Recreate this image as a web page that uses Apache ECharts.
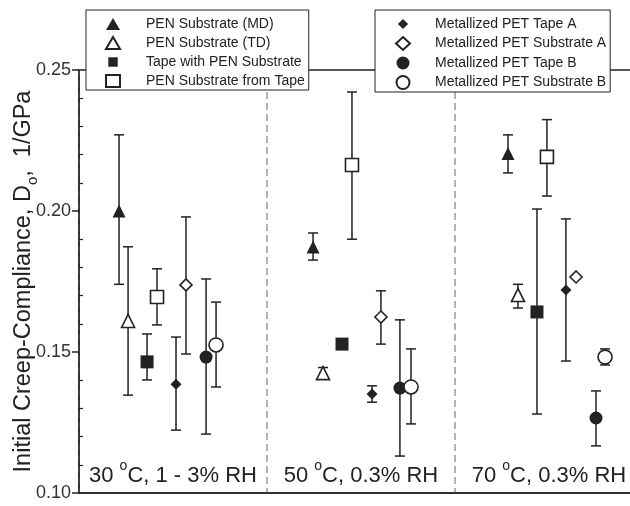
<!DOCTYPE html>
<html>
<head>
<meta charset="utf-8">
<script src="https://cdn.jsdelivr.net/npm/echarts@6/dist/echarts.min.js"></script>
<style>
  html, body { margin: 0; padding: 0; background: #fff; }
  #chart { width: 630px; height: 506px; }
</style>
</head>
<body>
<div id="chart"></div>
<script>
// test conditions (one group per condition)
var conditions = ['30|C, 1 - 3% RH', '50|C, 0.3% RH', '70|C, 0.3% RH'];

var seriesNames = [
  'PEN Substrate (MD)', 'PEN Substrate (TD)', 'Tape with PEN Substrate', 'PEN Substrate from Tape',
  'Metallized PET Tape A', 'Metallized PET Substrate A', 'Metallized PET Tape B', 'Metallized PET Substrate B'
];

// x position of each sample inside the 3 groups (group i spans i..i+1)
var xPos = [
  [0.213, 1.245, 2.282],
  [0.261, 1.298, 2.335],
  [0.362, 1.399, 2.436],
  [0.415, 1.452, 2.489],
  [0.516, 1.559, 2.590],
  [0.569, 1.606, 2.644],
  [0.676, 1.707, 2.750],
  [0.729, 1.766, 2.798]
];

// initial creep-compliance, 1/GPa
var dVals = [
  [0.200, 0.1872, 0.2204],
  [0.161, 0.1425, 0.1702],
  [0.1465, 0.1528, 0.1642],
  [0.1695, 0.2163, 0.2192],
  [0.1386, 0.1351, 0.1720],
  [0.1738, 0.1624, 0.1766],
  [0.1482, 0.1372, 0.1266],
  [0.1525, 0.1376, 0.1482]
];
var errLow = [
  [0.174, 0.1826, 0.2135],
  [0.1347, 0.1415, 0.1656],
  [0.1401, null, 0.128],
  [0.1596, 0.190, 0.2053],
  [0.1223, 0.1322, 0.1468],
  [0.1493, 0.1528, null],
  [0.1209, 0.1131, 0.1167],
  [0.1376, 0.1245, 0.1454]
];
var errHigh = [
  [0.227, 0.1922, 0.2270],
  [0.1873, 0.1445, 0.1740],
  [0.1564, null, 0.2007],
  [0.1795, 0.2422, 0.2324],
  [0.1553, 0.1380, 0.1972],
  [0.1979, 0.1717, null],
  [0.1759, 0.1614, 0.1362],
  [0.1677, 0.1511, 0.1511]
];

var yTicks = [0.10, 0.15, 0.20, 0.25];

var ink = '#222';
var symbols = ['triangle', 'triangle', 'rect', 'rect', 'diamond', 'diamond', 'circle', 'circle'];
var sizes = [13, 13, 13, 13, 11, 12, 13, 14];
var hollow = [false, true, false, true, false, true, false, true];
// legend icons: the two small filled marks are drawn smaller inside the icon box
var legendIcons = [null, null, 'path://M0,0M14,14M1.5,1.5H12.5V12.5H1.5Z', null,
  'path://M0,0M14,14M7,1.5L12.5,7L7,12.5L1.5,7Z', null, null, null];

var dom = document.getElementById('chart');
var myChart = echarts.init(dom);
var option = null;

var series = [];
var errData = [];
seriesNames.forEach(function (name, i) {
  var pts = [];
  for (var g = 0; g < 3; g++) {
    pts.push([xPos[i][g], dVals[i][g]]);
    if (errLow[i][g] != null) {
      errData.push([xPos[i][g], errLow[i][g], errHigh[i][g]]);
    }
  }
  series.push({
    name: name,
    type: 'scatter',
    symbol: symbols[i],
    symbolSize: sizes[i],
    z: 5,
    itemStyle: {
      color: hollow[i] ? '#fff' : ink,
      borderColor: ink,
      borderWidth: hollow[i] ? 1.6 : 0,
      opacity: 1
    },
    data: pts
  });
});

// error bars
series.unshift({
  type: 'custom',
  z: 3,
  silent: true,
  renderItem: function (params, api) {
    var x = api.value(0);
    var top = api.coord([x, api.value(2)]);
    var bot = api.coord([x, api.value(1)]);
    var cap = 5;
    var st = { stroke: ink, lineWidth: 1.5 };
    return {
      type: 'group',
      children: [
        { type: 'line', shape: { x1: top[0], y1: top[1], x2: bot[0], y2: bot[1] }, style: st },
        { type: 'line', shape: { x1: top[0] - cap, y1: top[1], x2: top[0] + cap, y2: top[1] }, style: st },
        { type: 'line', shape: { x1: bot[0] - cap, y1: bot[1], x2: bot[0] + cap, y2: bot[1] }, style: st }
      ]
    };
  },
  encode: { x: 0, y: [1, 2] },
  data: errData
});

function legendData(from, to) {
  var out = [];
  for (var i = from; i < to; i++) {
    var d = { name: seriesNames[i] };
    if (legendIcons[i]) d.icon = legendIcons[i];
    out.push(d);
  }
  return out;
}

var legendBase = {
  orient: 'vertical',
  top: 10,
  itemWidth: 14,
  itemGap: 5,
  selectedMode: false,
  borderColor: ink,
  borderWidth: 1,
  borderRadius: 0,
  backgroundColor: '#fff',
  z: 10
};

option = {
  animation: false,
  textStyle: { fontFamily: 'Liberation Sans, Arial, sans-serif' },
  grid: {
    left: 79,
    right: -13,
    top: 70,
    bottom: 13,
    outerBoundsMode: 'none',
    containLabel: false,
    show: true,
    borderColor: ink,
    borderWidth: 1.5,
    backgroundColor: 'transparent'
  },
  legend: [
    Object.assign({}, legendBase, {
      left: 86,
      itemHeight: 12,
      data: legendData(0, 4),
      padding: [7, 4, 2, 19],
      textStyle: { fontSize: 14, lineHeight: 14, color: ink, padding: [0, 0, 0, 21] }
    }),
    Object.assign({}, legendBase, {
      left: 375,
      itemHeight: 13,
      data: legendData(4, 8),
      padding: [7, 4, 2, 20],
      textStyle: { fontSize: 14, lineHeight: 14, color: ink, padding: [0, 0, 0, 20] }
    })
  ],
  xAxis: [{
    type: 'value',
    min: 0,
    max: 3,
    interval: 1,
    axisLine: { show: true, lineStyle: { color: ink, width: 1.5 } },
    axisTick: { show: false },
    axisLabel: { show: false },
    splitLine: {
      show: true,
      lineStyle: { color: '#999', width: 1.5, type: [7, 4] }
    }
  }, {
    type: 'category',
    position: 'bottom',
    data: conditions,
    axisLine: { show: false },
    axisTick: { show: false },
    splitLine: { show: false },
    axisLabel: {
      inside: true,
      interval: 0,
      hideOverlap: false,
      margin: 6,
      formatter: function (v) {
        var p = v.split('|');
        return '{n|' + p[0] + ' }{s|o}{n|' + p[1] + '}';
      },
      rich: {
        n: { fontSize: 22, color: ink, verticalAlign: 'bottom', lineHeight: 28 },
        s: { fontSize: 14, color: ink, verticalAlign: 'top', lineHeight: 28 }
      }
    }
  }],
  yAxis: [{
    type: 'value',
    position: 'left',
    min: yTicks[0],
    max: yTicks[yTicks.length - 1],
    interval: 0.05,
    name: '{t|Initial Creep-Compliance, D}{s|o}{c|,}{t|  1/GPa}',
    nameLocation: 'middle',
    nameGap: 39,
    nameMoveOverlap: false,
    nameTextStyle: {
      rich: {
        t: { fontSize: 23.5, color: ink, verticalAlign: 'top', lineHeight: 28 },
        s: { fontSize: 15, color: ink, verticalAlign: 'bottom', lineHeight: 21 },
        c: { fontSize: 23.5, color: ink, verticalAlign: 'top', lineHeight: 10 }
      }
    },
    axisLine: { show: true, lineStyle: { color: ink, width: 1.5 } },
    axisTick: { show: true, inside: false, length: 7, lineStyle: { color: ink, width: 1.5 } },
    axisLabel: {
      fontSize: 18,
      color: '#333',
      margin: 8,
      formatter: function (v) { return v.toFixed(2); }
    },
    splitLine: { show: false }
  }, {
    type: 'value',
    position: 'left',
    min: yTicks[0],
    max: yTicks[yTicks.length - 1],
    interval: 0.05,
    axisLine: { show: false },
    axisLabel: { show: false },
    axisTick: { show: false, inside: true },
    minorTick: { show: true, splitNumber: 5, length: 4, lineStyle: { color: ink, width: 1.2 } },
    splitLine: { show: false }
  }],
  series: series
};

if (option && typeof option === "object") {
  myChart.setOption(option, true);
}
</script>
</body>
</html>
